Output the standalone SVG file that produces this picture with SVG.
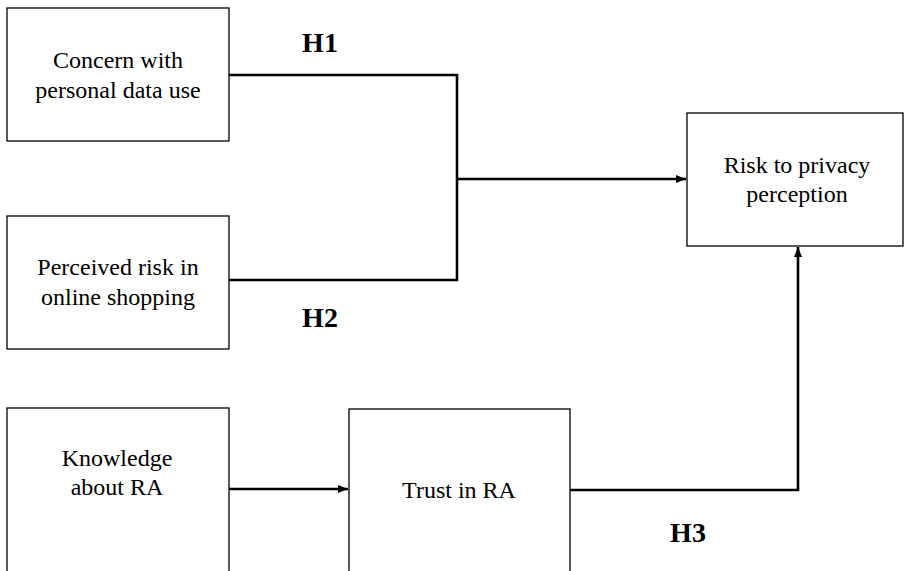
<svg xmlns="http://www.w3.org/2000/svg" width="904" height="571" viewBox="0 0 904 571">
<style>
.box{fill:#fff;stroke:#000;stroke-width:1.3}
.t{font-family:'Liberation Serif',Tinos,'Times New Roman',Times,'DejaVu Serif',serif;font-size:24px;fill:#000;text-anchor:middle}
.h{font-family:'Liberation Serif',Tinos,'Times New Roman',Times,'DejaVu Serif',serif;font-size:28px;font-weight:bold;fill:#000;text-anchor:middle}
.c{fill:none;stroke:#000;stroke-width:2.6}
</style>
<defs>
<marker id="ah" markerWidth="10" markerHeight="10" refX="10" refY="5" orient="auto" markerUnits="userSpaceOnUse" viewBox="0 0 10 10">
<path d="M0,1 L10,5 L0,9 Z" fill="#000"/>
</marker>
</defs>
<rect width="904" height="571" fill="#fff"/>
<g id="connectors">
<polyline class="c" points="229,75 457,75 457,280 229,280"/>
<line class="c" x1="457" y1="179" x2="686" y2="179" marker-end="url(#ah)"/>
<line class="c" x1="229" y1="489" x2="348" y2="489" marker-end="url(#ah)"/>
<polyline class="c" points="570,490 798,490 798,247" marker-end="url(#ah)"/>
<text class="h" x="320" y="52">H1</text>
<text class="h" x="320" y="327">H2</text>
<text class="h" x="688" y="542">H3</text>
</g>
<g id="concern">
<rect class="box" x="7" y="8" width="222" height="133"/>
<text class="t" x="118" y="68">Concern with</text>
<text class="t" x="118" y="98">personal data use</text>
</g>
<g id="perceived">
<rect class="box" x="7" y="216" width="222" height="133"/>
<text class="t" x="118" y="275">Perceived risk in</text>
<text class="t" x="118" y="305">online shopping</text>
</g>
<g id="risk">
<rect class="box" x="687" y="113" width="216" height="133"/>
<text class="t" x="797" y="173">Risk to privacy</text>
<text class="t" x="797" y="202">perception</text>
</g>
<g id="knowledge">
<rect class="box" x="7" y="408" width="222" height="170"/>
<text class="t" x="117" y="466">Knowledge</text>
<text class="t" x="117" y="495">about RA</text>
</g>
<g id="trust">
<rect class="box" x="349" y="409" width="221" height="170"/>
<text class="t" x="459" y="498">Trust in RA</text>
</g>
</svg>
